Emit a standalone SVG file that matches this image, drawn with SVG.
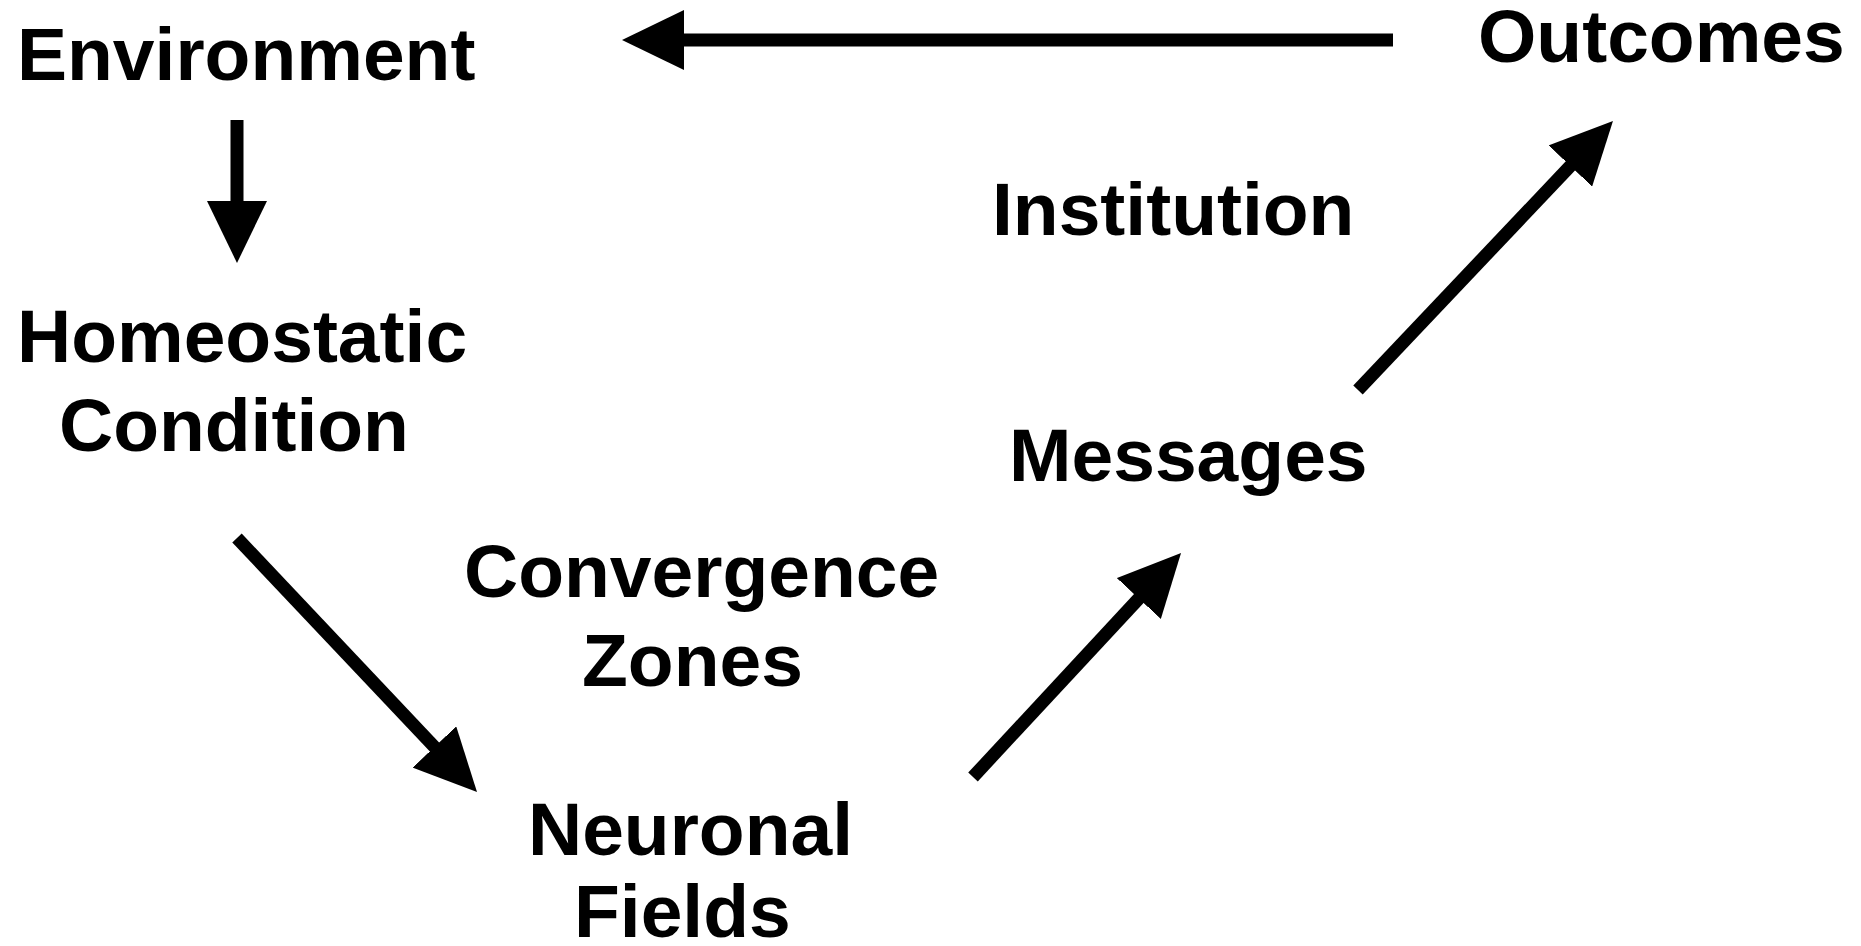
<svg xmlns="http://www.w3.org/2000/svg" width="1861" height="946" viewBox="0 0 1861 946">
<style>
.lbl{font-family:"Liberation Sans",Arial,sans-serif;font-weight:bold;font-size:75px;fill:#000}
.conn{stroke:#000;stroke-width:13;fill:none;stroke-linecap:butt}
</style>
<defs>
<marker id="ah" markerUnits="userSpaceOnUse" markerWidth="62" markerHeight="60" viewBox="0 0 62 60" refX="2" refY="30" orient="auto">
<path d="M0,0 L62,30 L0,60 Z" fill="#000"/>
</marker>
</defs>
<rect width="1861" height="946" fill="#fff"/>
<g id="connectors">
<line class="conn" x1="1393" y1="40" x2="682" y2="40" marker-end="url(#ah)"/>
<line class="conn" x1="237" y1="120" x2="237" y2="203" marker-end="url(#ah)"/>
<line class="conn" x1="237" y1="538" x2="435.8" y2="748.4" marker-end="url(#ah)"/>
<line class="conn" x1="973" y1="777" x2="1140.2" y2="597" marker-end="url(#ah)"/>
<line class="conn" x1="1358" y1="390" x2="1571.7" y2="164.5" marker-end="url(#ah)"/>
</g>
<g id="environment"><text class="lbl" x="17" y="80">Environment</text></g>
<g id="homeostatic"><text class="lbl" x="17" y="362">Homeostatic</text><text class="lbl" x="59" y="451">Condition</text></g>
<g id="convergence"><text class="lbl" x="464" y="597">Convergence</text><text class="lbl" x="582" y="686">Zones</text></g>
<g id="neuronal"><text class="lbl" x="528" y="855">Neuronal</text><text class="lbl" x="574" y="937">Fields</text></g>
<g id="messages"><text class="lbl" x="1009" y="481">Messages</text></g>
<g id="institution"><text class="lbl" x="992" y="235">Institution</text></g>
<g id="outcomes"><text class="lbl" x="1478" y="62">Outcomes</text></g>
</svg>
